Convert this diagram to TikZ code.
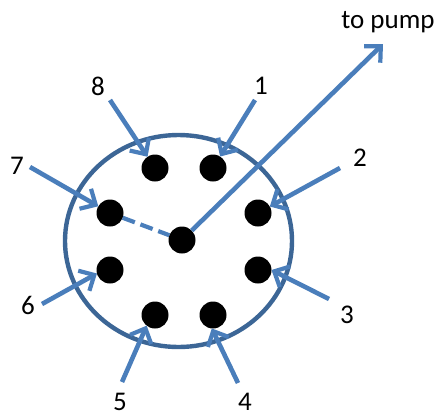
\documentclass[tikz,border=0pt]{standalone}
\usepackage{fontspec}
\setmainfont{Carlito}
\usetikzlibrary{arrows.meta}
\definecolor{arrowblue}{HTML}{4A7EBB}
\definecolor{ringblue}{HTML}{3C6696}
\tikzset{
  port/.style={circle,fill=black,draw=none,minimum size=27pt,inner sep=0pt,outer sep=0pt},
  lab/.style={inner sep=0pt,font=\fontsize{27}{27}\selectfont,text=black},
  feed/.style={draw=arrowblue,line width=4.6pt,-{Straight Barb[length=12pt,width=23pt,line width=4.2pt]}},
  ring/.style={draw=ringblue,line width=4.4pt},
}
\begin{document}
\begin{tikzpicture}[x=1pt,y=-1pt]
\useasboundingbox (0,0) rectangle (437,416);
\draw[ring] (178.5,241) ellipse [x radius=113.5,y radius=106];
\node[port] (d1) at (213,168) {};
\node[port] (d2) at (258,213) {};
\node[port] (d3) at (258,270) {};
\node[port] (d4) at (213,315) {};
\node[port] (d5) at (155,315) {};
\node[port] (d6) at (110,270) {};
\node[port] (d7) at (110,213) {};
\node[port] (d8) at (155,168) {};
\node[port] (c) at (182,240) {};
\coordinate (s1) at (255,100);
\coordinate (s2) at (340,168);
\coordinate (s3) at (329,299);
\coordinate (s4) at (238,383);
\coordinate (s5) at (122,382);
\coordinate (s6) at (42,304);
\coordinate (s7) at (30,167);
\coordinate (s8) at (110,100);
\coordinate (pumpend) at (383,44);
\draw[feed] (s1) -- (d1);
\draw[feed] (s2) -- (d2);
\draw[feed] (s3) -- (d3.east);
\draw[feed] (s4) -- (d4.265);
\draw[feed] (s5) -- (d5.232);
\draw[feed] (s6) -- (d6.195);
\draw[feed] (s7) -- (d7);
\draw[feed] (s8) -- (d8);
\draw[feed] (c) -- (pumpend);
\draw[draw=arrowblue,line width=4.2pt,dash pattern=on 13pt off 6pt] (d7) -- (c);
\node[lab] (l1) at (261,86) {1};
\node[lab] (l2) at (360,158) {2};
\node[lab] (l3) at (347,315) {3};
\node[lab] (l4) at (245,402) {4};
\node[lab] (l5) at (120,402) {5};
\node[lab] (l6) at (28,305) {6};
\node[lab] (l7) at (17,166) {7};
\node[lab] (l8) at (98,86) {8};
\node[lab] (pump) at (388,22) {to pump};
\end{tikzpicture}
\end{document}
